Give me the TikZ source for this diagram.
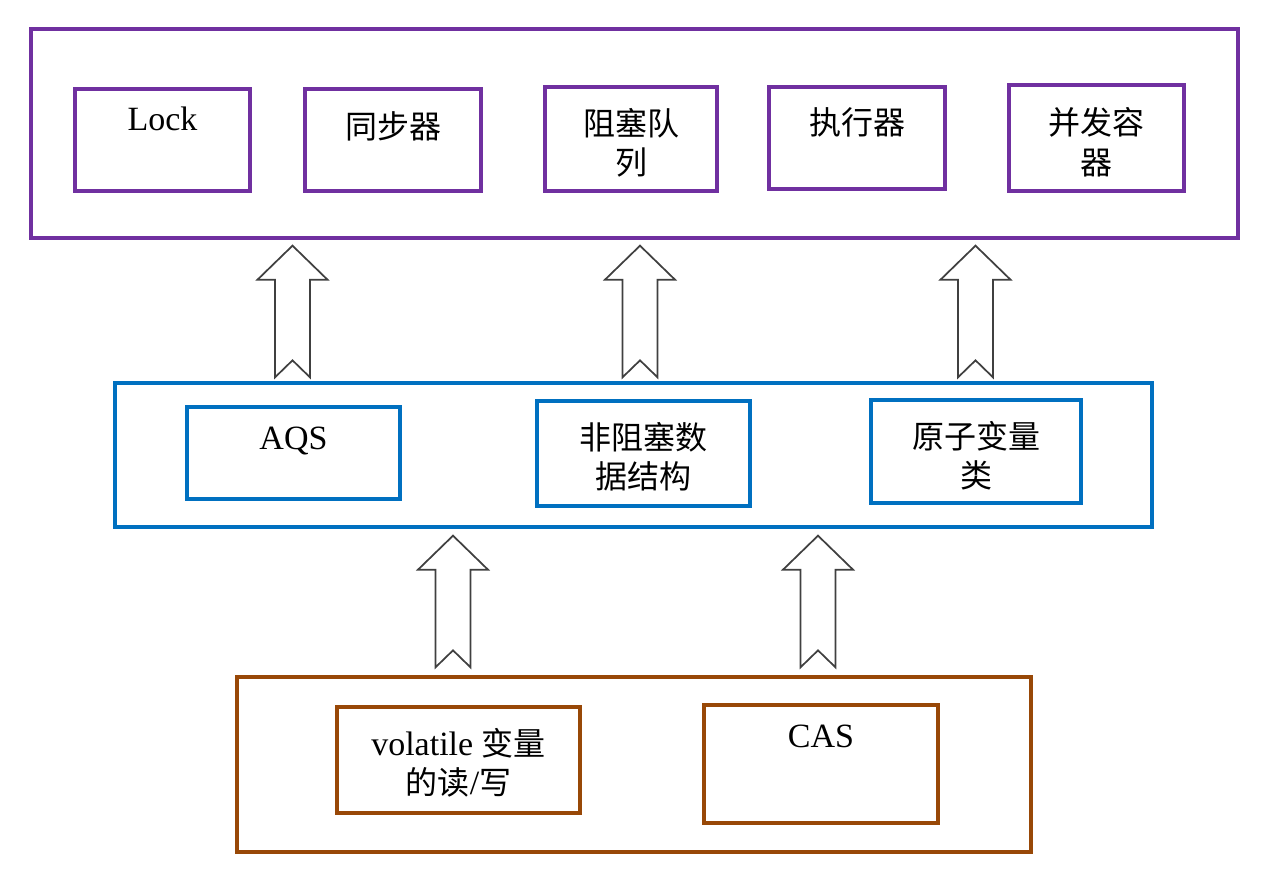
\documentclass[tikz,border=0pt]{standalone}
\usepackage{fontspec}
\setmainfont{Liberation Serif}
\newfontfamily\cjk{Noto Sans CJK SC}
\usetikzlibrary{fit,calc}
\definecolor{cpurple}{RGB}{112,48,160}
\definecolor{cblue}{RGB}{0,112,192}
\definecolor{cbrown}{RGB}{152,72,7}
\definecolor{cgray}{RGB}{64,64,64}
\newcommand{\zh}[1]{{\fontsize{24}{29.5}\selectfont\cjk #1}}
% #1 x-coordinate name, #2 lower node, #3 upper node, #4 tip gap, #5 tail gap
\newcommand{\fatarrow}[5]{%
  \coordinate (ftip) at ($(#3.south -| #1)+(0,#4)$);
  \coordinate (ftail) at ($(#2.north -| #1)+(0,-#5)$);
  \draw[fat] (ftip) -- ($(ftip)+(35,34)$) -- ($(ftip)+(17.5,34)$)
    -- ($(ftail)+(17.5,0)$) -- ($(ftail)+(0,-17)$) -- ($(ftail)+(-17.5,0)$)
    -- ($(ftip)+(-17.5,34)$) -- ($(ftip)+(-35,34)$) -- cycle;
}
\begin{document}
\begin{tikzpicture}[x=0.75pt,y=-0.75pt,
  box/.style={draw=#1, line width=2.5pt, inner sep=0pt},
  txt/.style={font=\fontsize{25.5}{29.5}\selectfont, align=center, inner sep=0pt, anchor=base},
  zhtxt/.style={txt, font=\fontsize{24}{29.5}\selectfont\cjk},
  fat/.style={draw=cgray, line width=1.3pt, fill=white, line join=miter}]
\useasboundingbox (0,0) rectangle (1276,876);
% top layer
\node[box=cpurple, fit={(31,29)(1238,238)}] (top) {};
\node[box=cpurple, fit={(75,89)(250,191)}] (lock) {};
\node[box=cpurple, fit={(305,89)(481,191)}] (sync) {};
\node[box=cpurple, fit={(545,87)(717,191)}] (queue) {};
\node[box=cpurple, fit={(769,87)(945,189)}] (exec) {};
\node[box=cpurple, fit={(1009,85)(1184,191)}] (cont) {};
\node[txt] (lockt) at ([yshift=-32pt]lock.north) {Lock};
\node[zhtxt] (synct) at ([yshift=-38pt]sync.north) {同步器};
\node[zhtxt] (queuet) at ([yshift=-67pt]queue.north) {阻塞队\\列};
\node[zhtxt] (exect) at ([yshift=-37pt]exec.north) {执行器};
\node[zhtxt] (contt) at ([yshift=-68pt]cont.north) {并发容\\器};
% middle layer
\node[box=cblue, fit={(115,383)(1152,527)}] (mid) {};
\node[box=cblue, fit={(187,407)(400,499)}] (aqs) {};
\node[box=cblue, fit={(537,401)(750,506)}] (nbds) {};
\node[box=cblue, fit={(871,400)(1081,503)}] (atom) {};
\node[txt] (aqst) at ([yshift=-33pt]aqs.north) {AQS};
\node[zhtxt] (nbdst) at ([yshift=-67pt]nbds.north) {非阻塞数\\据结构};
\node[zhtxt] (atomt) at ([yshift=-67pt]atom.north) {原子变量\\类};
% bottom layer
\node[box=cbrown, fit={(237,677)(1031,852)}] (bot) {};
\node[box=cbrown, fit={(337,707)(580,813)}] (vol) {};
\node[box=cbrown, fit={(704,705)(938,823)}] (cas) {};
\node[txt] (volt) at ([yshift=-67pt]vol.north) {volatile \zh{变量}\\\zh{的读}/\zh{写}};
\node[txt] (cast) at ([yshift=-33pt]cas.north) {CAS};
% arrows
\coordinate (ax1) at (292.5,0);
\coordinate (ax2) at (640,0);
\coordinate (ax3) at (975.5,0);
\coordinate (ax4) at (453,0);
\coordinate (ax5) at (818,0);
\fatarrow{ax1}{mid}{top}{6}{4}
\fatarrow{ax2}{mid}{top}{6}{4}
\fatarrow{ax3}{mid}{top}{6}{4}
\fatarrow{ax4}{bot}{mid}{7}{8}
\fatarrow{ax5}{bot}{mid}{7}{8}
\end{tikzpicture}
\end{document}
